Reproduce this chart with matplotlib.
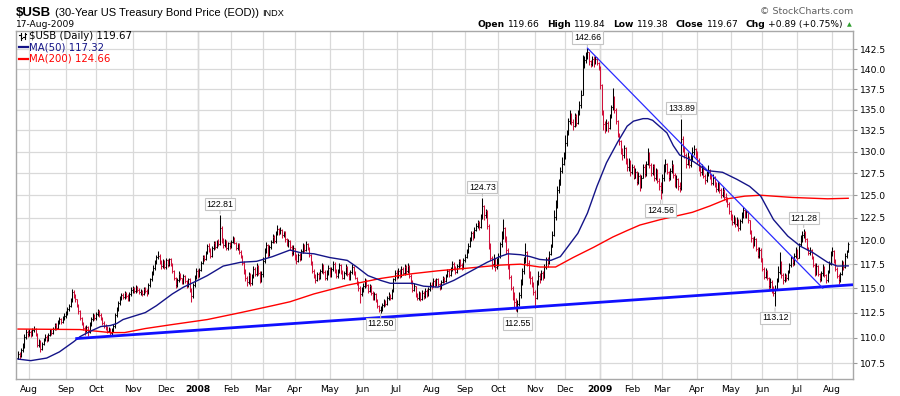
import matplotlib
matplotlib.use("Agg")
import matplotlib.pyplot as plt
import numpy as np
from matplotlib.collections import LineCollection
from matplotlib.lines import Line2D
from matplotlib.ticker import FixedLocator, NullLocator, FuncFormatter

W, H = 900, 396

# -----------------------------------------------------------------------------
#         Data (daily bars Jul-2007 .. 17-Aug-2009)
# -----------------------------------------------------------------------------
# trading days shown per month: Jul-07 (partial) ... Aug-09 (partial)
month_days = [7, 23, 19, 23, 21, 20, 21, 20, 20, 22, 21, 21, 22,
              21, 21, 23, 19, 22, 20, 19, 22, 21, 20, 22, 22, 11]
month_labels = ["Aug", "Sep", "Oct", "Nov", "Dec", "2008", "Feb", "Mar", "Apr",
                "May", "Jun", "Jul", "Aug", "Sep", "Oct", "Nov", "Dec", "2009",
                "Feb", "Mar", "Apr", "May", "Jun", "Jul", "Aug"]

first_open = 108.0

closes = [
    108.4, 108.2, 108.8, 109.2, 110.1, 110.6, 110.4,
    110.6, 110.3, 110.8, 110.9, 110.4, 109.3, 109.7, 108.9, 109.4, 109.8, 110.1, 109.8, 110.3, 110.7, 110.5, 110.9, 111.3, 111.0, 111.6, 111.9, 111.6, 112.0, 112.2,
    112.5, 112.9, 113.2, 113.8, 114.6, 114.3, 113.9, 113.3, 112.7, 112.0, 111.5, 111.0, 110.7, 111.1, 110.6, 111.4, 111.9, 112.2, 112.0,
    112.4, 112.7, 112.3, 112.0, 111.5, 111.2, 111.0, 110.7, 110.9, 110.5, 110.8, 111.2, 112.3, 112.9, 113.5, 114.0, 114.3, 114.1, 114.5, 114.2, 113.9, 114.4, 114.8,
    115.0, 114.7, 115.1, 114.8, 114.6, 114.6, 114.4, 114.9, 114.7, 114.5, 115.3, 115.9, 116.6, 117.1, 117.7, 118.3, 118.4, 117.8, 117.3, 117.8, 117.2,
    117.9, 117.4, 118.0, 117.5, 116.8, 116.0, 115.3, 115.8, 116.5, 116.0, 115.6, 116.3, 115.7, 115.2, 115.9, 114.8, 114.2, 115.3, 116.2, 116.8,
    116.3, 116.9, 117.6, 118.3, 118.0, 118.7, 119.4, 119.0, 118.4, 119.2, 119.8, 119.3, 119.9, 119.6, 121.4, 120.0, 119.5, 120.0, 119.2, 119.7, 119.4,
    119.9, 120.3, 119.8, 119.2, 119.6, 118.8, 118.3, 117.6, 116.8, 116.0, 115.6, 116.4, 115.5, 116.2, 117.0, 116.5, 117.3, 116.6, 115.8, 116.5,
    117.8, 118.9, 119.5, 118.6, 119.3, 119.9, 120.4, 120.0, 120.8, 121.3, 120.9, 121.2, 120.6, 120.9, 120.2, 119.6, 120.0, 119.3, 118.7, 119.2,
    118.3, 117.8, 118.5, 118.0, 118.9, 119.4, 119.0, 119.6, 119.2, 118.5, 117.6, 116.8, 116.2, 115.8, 116.5, 116.0, 116.8, 117.3, 116.7, 116.0, 116.6, 117.1,
    116.4, 117.0, 117.5, 116.9, 116.3, 116.8, 117.4, 116.7, 116.1, 116.6, 117.2, 116.5, 116.0, 116.7, 117.2, 116.6, 116.1, 115.5, 115.0, 114.4, 114.8,
    115.2, 115.8, 115.3, 114.7, 115.2, 114.5, 114.0, 114.4, 113.8, 113.2, 112.8, 112.9, 113.3, 113.7, 113.4, 114.0, 114.3, 114.0, 114.7, 115.9, 116.6,
    116.2, 116.8, 116.4, 117.0, 116.6, 117.2, 116.8, 117.3, 116.3, 115.6, 114.8, 115.2, 114.3, 114.0, 114.4, 113.9, 114.5, 114.2, 114.7, 114.3, 114.9, 115.3,
    115.2, 115.7, 115.3, 115.9, 115.4, 115.0, 115.6, 116.1, 115.7, 116.3, 116.8, 116.4, 117.0, 117.5, 117.1, 116.7, 117.3, 117.8, 117.4, 117.1, 117.9,
    118.3, 118.8, 119.4, 120.2, 120.8, 120.4, 121.2, 121.6, 122.0, 121.5, 122.6, 123.8, 122.8, 123.2, 121.6, 119.5, 118.2, 117.5, 118.0, 117.2, 117.6,
    118.4, 119.6, 120.5, 121.4, 120.3, 119.0, 117.4, 116.2, 115.0, 114.2, 113.6, 113.0, 113.4, 114.3, 115.6, 116.8, 117.9, 118.8, 117.6, 116.5, 116.0, 115.4, 114.6,
    114.0, 115.5, 116.3, 115.9, 116.6, 116.1, 117.2, 118.0, 117.6, 118.6, 119.3, 120.6, 122.6, 123.9, 125.6, 126.2, 127.8, 128.6, 129.3,
    131.0, 132.2, 133.6, 134.3, 133.5, 133.0, 134.2, 133.4, 134.5, 135.5, 136.8, 140.8, 141.2, 141.8, 142.2, 141.0, 140.6, 141.3, 140.8, 141.3, 140.7, 140.3,
    138.0, 134.8, 133.2, 132.6, 133.4, 132.8, 134.2, 135.3, 136.4, 135.0, 133.6, 132.0, 131.2, 130.0, 129.6, 130.4, 129.0, 128.2, 128.8, 127.6,
    128.2, 127.0, 127.6, 126.5, 127.2, 125.9, 127.0, 128.2, 127.4, 128.6, 129.7, 128.4, 127.5, 128.3, 126.9, 127.8, 126.6, 126.0, 125.6,
    127.0, 127.9, 128.6, 127.6, 126.9, 127.8, 128.4, 127.3, 126.2, 126.8, 126.0, 125.8, 131.5, 130.4, 129.6, 128.6, 129.3, 128.4, 129.2, 129.9, 130.3, 129.6,
    129.0, 128.2, 127.6, 128.1, 127.2, 126.7, 127.5, 127.9, 127.1, 126.4, 127.0, 126.2, 125.7, 126.3, 125.6, 125.0, 125.5, 124.8, 124.5, 124.0, 123.2,
    122.6, 122.0, 122.5, 121.8, 122.3, 121.4, 122.1, 122.8, 123.3, 122.7, 123.1, 122.2, 121.0, 120.3, 119.6, 120.2, 119.1, 118.4, 119.0, 118.1,
    117.0, 116.2, 116.8, 116.0, 115.2, 115.6, 114.8, 114.5, 114.9, 115.8, 116.7, 117.6, 116.4, 115.8, 116.3, 116.0, 116.7, 117.4, 118.1, 117.6, 118.4, 118.9,
    118.2, 119.6, 120.4, 120.6, 120.9, 120.2, 119.2, 118.7, 119.0, 118.2, 117.4, 116.6, 117.3, 116.5, 115.9, 116.6, 117.2, 116.4, 115.8, 116.7, 117.5, 118.6,
    118.9, 117.8, 117.0, 116.3, 115.8, 116.5, 117.6, 117.2, 118.4, 118.78, 119.67,
]

highs = [
    108.7, 108.6, 109.0, 109.5, 110.4, 110.9, 110.8,
    110.9, 110.8, 111.0, 111.2, 111.0, 110.5, 109.9, 109.8, 109.6, 110.0, 110.4, 110.3, 110.5, 110.9, 110.9, 111.1, 111.5, 111.5, 111.8, 112.1, 112.0, 112.2, 112.5,
    112.7, 113.1, 113.4, 114.0, 114.9, 114.8, 114.4, 113.9, 113.4, 112.8, 112.1, 111.6, 111.2, 111.3, 111.2, 111.6, 112.1, 112.5, 112.4,
    112.6, 112.9, 112.8, 112.5, 112.1, 111.7, 111.4, 111.2, 111.1, 111.0, 111.0, 111.4, 112.5, 113.1, 113.7, 114.2, 114.5, 114.5, 114.7, 114.6, 114.4, 114.6, 115.1,
    115.2, 115.1, 115.3, 115.2, 115.0, 114.9, 114.8, 115.1, 115.1, 114.9, 115.5, 116.1, 116.8, 117.4, 117.9, 118.5, 118.9, 118.6, 117.9, 118.0, 117.9,
    118.1, 118.0, 118.2, 118.1, 117.6, 116.9, 116.2, 116.0, 116.8, 116.6, 116.1, 116.5, 116.4, 115.8, 116.1, 116.0, 115.0, 115.5, 116.4, 117.1,
    117.0, 117.1, 117.8, 118.5, 118.5, 118.9, 119.6, 119.7, 119.2, 119.4, 120.0, 120.0, 120.1, 120.2, 122.81, 121.6, 120.3, 120.2, 120.1, 119.9, 119.9,
    120.1, 120.5, 120.4, 119.9, 119.8, 119.7, 119.0, 118.5, 117.8, 117.0, 116.3, 116.7, 116.6, 116.5, 117.3, 117.2, 117.6, 117.4, 116.8, 116.8,
    118.3, 119.2, 119.9, 119.6, 119.5, 120.1, 120.7, 120.6, 121.0, 121.7, 121.4, 121.5, 121.3, 121.1, 121.0, 120.3, 120.2, 120.1, 119.5, 119.5,
    118.9, 118.6, 118.7, 118.7, 119.1, 119.7, 119.6, 120.0, 119.8, 119.3, 118.6, 117.8, 117.0, 116.5, 116.7, 116.7, 117.0, 117.6, 117.5, 116.9, 116.9, 117.4,
    117.2, 117.2, 117.8, 117.7, 117.0, 117.0, 117.6, 117.5, 116.9, 116.8, 117.5, 117.3, 116.7, 116.9, 117.5, 117.3, 116.8, 116.2, 115.7, 115.2, 115.1,
    115.5, 116.1, 115.9, 115.4, 115.4, 115.3, 114.7, 114.6, 114.5, 113.9, 113.3, 113.2, 113.5, 113.9, 113.8, 114.2, 114.6, 114.4, 114.9, 116.1, 116.9,
    116.9, 117.1, 117.0, 117.3, 117.2, 117.5, 117.4, 117.6, 117.4, 116.5, 115.8, 115.5, 115.2, 114.5, 114.7, 114.6, 114.8, 114.7, 115.0, 114.9, 115.1, 115.6,
    115.6, 116.0, 115.9, 116.1, 116.0, 115.5, 115.8, 116.3, 116.2, 116.5, 117.0, 117.0, 117.2, 117.8, 117.7, 117.3, 117.5, 118.0, 118.0, 117.6, 118.1,
    118.6, 119.1, 119.7, 120.4, 121.1, 121.0, 121.5, 121.9, 122.3, 122.1, 122.9, 124.73, 123.9, 123.5, 123.3, 121.8, 119.8, 118.4, 118.6, 118.2, 118.1,
    118.7, 119.9, 121.0, 122.4, 121.5, 120.5, 119.2, 117.5, 116.4, 115.2, 114.6, 114.0, 113.8, 114.6, 115.9, 117.1, 118.3, 119.7, 118.9, 117.9, 116.8, 116.3, 115.6,
    114.8, 115.8, 116.8, 116.6, 116.9, 116.8, 117.5, 118.3, 118.3, 118.9, 119.6, 121.1, 123.4, 124.5, 126.0, 126.8, 128.2, 129.4, 129.9,
    131.9, 132.6, 134.0, 134.9, 134.6, 133.8, 134.6, 134.4, 134.9, 136.0, 137.4, 141.8, 141.6, 142.1, 142.66, 142.0, 141.2, 141.6, 141.6, 141.7, 141.5, 140.9,
    140.4, 138.1, 134.9, 133.6, 133.9, 133.6, 134.5, 135.6, 137.6, 136.6, 135.2, 133.7, 132.2, 131.4, 130.4, 130.8, 130.5, 129.2, 129.3, 129.0,
    128.5, 128.4, 128.1, 127.8, 127.6, 127.4, 127.3, 128.5, 128.6, 128.9, 130.4, 130.0, 128.7, 128.6, 128.5, 128.1, 128.0, 126.9, 126.5,
    127.4, 128.6, 129.1, 128.7, 127.8, 128.1, 129.0, 128.5, 127.5, 127.3, 127.0, 126.5, 133.89, 131.8, 130.7, 129.8, 129.9, 129.5, 129.7, 130.5, 130.8, 130.4,
    130.1, 129.3, 128.4, 128.5, 128.3, 127.4, 127.8, 128.4, 128.0, 127.4, 127.4, 127.2, 126.5, 126.6, 126.5, 125.8, 125.9, 125.7, 125.2, 124.8, 124.2,
    123.4, 122.9, 122.8, 122.6, 122.6, 122.4, 122.4, 123.1, 123.7, 123.5, 123.4, 123.2, 122.3, 121.2, 120.4, 120.5, 120.3, 119.3, 119.3, 119.2,
    118.2, 117.2, 117.1, 116.9, 116.2, 116.0, 115.8, 115.2, 115.3, 116.1, 117.3, 118.8, 117.8, 116.6, 116.6, 116.5, 116.9, 117.6, 118.4, 118.3, 118.7, 119.3,
    119.1, 119.8, 120.6, 121.0, 121.28, 121.1, 120.3, 119.3, 119.3, 119.1, 118.4, 117.6, 117.6, 117.4, 116.6, 116.8, 117.5, 117.3, 116.5, 116.9, 117.8, 118.9,
    119.3, 119.0, 118.0, 117.2, 116.5, 116.7, 117.9, 117.8, 118.7, 119.0, 119.84,
]

lows = [
    107.9, 107.9, 108.1, 108.6, 109.0, 109.9, 110.1,
    110.2, 110.1, 110.2, 110.6, 110.2, 109.1, 109.1, 108.6, 108.8, 109.3, 109.7, 109.6, 109.7, 110.2, 110.3, 110.4, 110.8, 110.8, 110.9, 111.4, 111.4, 111.5, 111.8,
    112.0, 112.3, 112.7, 113.1, 113.6, 114.0, 113.6, 113.1, 112.4, 111.8, 111.3, 110.8, 110.3, 110.6, 110.2, 110.5, 111.2, 111.7, 111.8,
    111.8, 112.2, 112.1, 111.8, 111.3, 111.0, 110.8, 110.5, 110.6, 110.2, 110.3, 110.6, 111.0, 112.1, 112.7, 113.3, 113.8, 113.9, 113.9, 114.0, 113.7, 113.7, 114.2,
    114.5, 114.5, 114.5, 114.6, 114.4, 114.3, 114.2, 114.3, 114.5, 114.2, 114.4, 115.1, 115.7, 116.4, 116.9, 117.5, 118.0, 117.5, 117.0, 117.1, 117.0,
    117.0, 117.2, 117.3, 117.3, 116.6, 115.8, 115.0, 115.1, 115.6, 115.8, 115.4, 115.4, 115.5, 115.0, 115.1, 114.6, 113.6, 114.0, 115.1, 115.9,
    116.0, 116.2, 116.8, 117.5, 117.8, 117.9, 118.6, 118.8, 118.2, 118.3, 119.0, 119.1, 119.2, 119.4, 119.5, 119.8, 119.2, 119.3, 119.0, 119.0, 119.1,
    119.2, 119.7, 119.6, 119.0, 119.0, 118.6, 118.1, 117.4, 116.5, 115.7, 115.2, 115.4, 115.2, 115.3, 116.0, 116.3, 116.3, 116.4, 115.5, 115.6,
    116.2, 117.6, 118.7, 118.3, 118.4, 119.1, 119.7, 119.7, 119.8, 120.6, 120.6, 120.7, 120.3, 120.4, 119.9, 119.4, 119.3, 119.0, 118.4, 118.5,
    117.9, 117.5, 117.7, 117.8, 117.9, 118.7, 118.8, 118.9, 119.0, 118.3, 117.4, 116.6, 116.0, 115.5, 115.7, 115.8, 115.9, 116.6, 116.5, 115.8, 115.8, 116.4,
    116.2, 116.2, 116.8, 116.6, 116.1, 116.1, 116.6, 116.5, 115.9, 115.9, 116.4, 116.3, 115.8, 115.8, 116.5, 116.4, 115.9, 115.3, 114.7, 113.5, 114.2,
    114.6, 115.0, 115.1, 114.5, 114.6, 114.3, 113.8, 113.8, 113.6, 113.0, 112.6, 112.50, 112.7, 113.1, 113.2, 113.3, 113.8, 113.8, 113.9, 114.6, 115.7,
    115.9, 116.0, 116.1, 116.2, 116.4, 116.4, 116.5, 116.6, 116.1, 115.4, 114.6, 114.7, 114.1, 113.8, 113.8, 113.7, 113.8, 113.9, 114.0, 114.1, 114.2, 114.7,
    114.9, 115.1, 115.1, 115.2, 115.2, 114.8, 114.9, 115.5, 115.5, 115.6, 116.2, 116.2, 116.3, 116.8, 116.9, 116.5, 116.6, 117.1, 117.2, 116.9, 117.0,
    117.7, 118.1, 118.7, 119.3, 120.0, 120.1, 120.3, 121.0, 121.4, 121.2, 121.4, 122.4, 122.3, 122.5, 121.3, 119.1, 117.9, 117.0, 117.2, 116.8, 117.0,
    117.3, 118.2, 119.3, 120.2, 119.9, 118.6, 117.0, 115.9, 114.8, 113.8, 113.1, 112.7, 112.55, 113.2, 114.0, 115.3, 116.5, 117.6, 117.3, 116.1, 115.4, 115.1, 114.3,
    113.0, 113.9, 115.3, 115.5, 115.8, 115.8, 116.0, 117.0, 117.2, 117.5, 118.5, 119.3, 120.5, 122.3, 123.6, 125.3, 126.1, 127.5, 128.4,
    129.1, 130.6, 131.9, 133.3, 133.1, 132.5, 132.9, 133.0, 133.2, 134.3, 135.2, 137.0, 140.1, 140.8, 141.3, 140.5, 140.2, 140.4, 140.3, 140.6, 140.5, 139.9,
    137.5, 134.3, 132.6, 132.2, 132.4, 132.3, 132.7, 134.0, 135.0, 134.6, 133.2, 131.7, 130.8, 129.7, 129.0, 129.3, 128.6, 127.8, 127.7, 127.2,
    127.4, 126.8, 126.9, 126.2, 126.3, 125.5, 125.8, 126.9, 127.1, 127.2, 128.4, 128.1, 127.2, 127.3, 126.6, 126.7, 126.4, 125.6, 124.56,
    125.3, 126.6, 127.6, 127.4, 126.6, 126.7, 127.5, 127.0, 125.9, 125.8, 125.6, 125.4, 125.6, 129.9, 129.2, 128.1, 128.4, 128.1, 128.2, 128.9, 129.6, 129.2,
    128.6, 127.8, 127.2, 127.3, 126.9, 126.3, 126.5, 127.2, 126.8, 126.1, 126.2, 125.9, 125.4, 125.5, 125.3, 124.7, 124.8, 124.5, 124.2, 123.7, 122.9,
    122.2, 121.7, 121.8, 121.5, 121.6, 121.1, 121.2, 121.9, 122.5, 122.5, 122.5, 121.9, 120.7, 119.9, 119.2, 119.4, 118.9, 118.1, 118.2, 117.7,
    116.8, 115.9, 116.0, 115.8, 114.9, 115.0, 114.5, 114.2, 113.12, 114.8, 115.6, 116.5, 116.1, 115.4, 115.6, 115.7, 115.8, 116.6, 117.2, 117.3, 117.4, 118.1,
    117.9, 118.1, 119.4, 119.9, 120.3, 119.9, 119.0, 118.5, 118.5, 118.0, 117.2, 116.3, 116.4, 116.3, 115.6, 115.7, 116.3, 116.2, 115.5, 115.6, 116.6, 117.4,
    118.4, 117.6, 116.8, 116.0, 115.4, 115.6, 116.4, 116.9, 117.1, 118.1, 119.38,
]

# moving averages, read at these bar numbers
ma50_bar = [0, 8, 18, 26, 35, 39, 45, 52, 58, 62, 66, 72, 80, 87, 97, 104, 113, 119, 129, 140,
            150, 160, 171, 178, 186, 196, 207, 213, 220, 228, 234, 248, 255, 264, 274, 284, 295, 303, 308, 316,
            322, 328, 335, 341, 345, 352, 358, 364, 370, 377, 383, 387, 393, 396, 399, 408, 412, 416, 421, 425,
            433, 443, 452, 460, 467, 475, 484, 492, 500, 509, 515, 522]
ma50 = [107.9, 107.75, 108.0, 108.6, 109.6, 110.1, 110.6, 111.1, 111.2, 111.4, 111.8, 112.1, 112.5, 113.2, 114.4, 115.1, 115.8, 116.3, 117.3, 117.7,
        117.8, 118.3, 119.0, 118.7, 118.6, 118.2, 117.9, 117.2, 116.3, 115.8, 115.5, 115.5, 115.2, 115.1, 115.8, 116.7, 117.7, 118.3, 118.6, 118.5,
        118.3, 118.0, 117.9, 118.3, 119.2, 120.8, 123.0, 126.0, 128.7, 131.1, 133.0, 133.6, 133.9, 133.9, 133.7, 132.2, 130.7, 129.6, 129.2, 128.8,
        127.8, 127.6, 126.8, 126.0, 124.9, 122.3, 120.5, 119.4, 118.7, 117.7, 117.3, 117.32]
ma200_bar = [0, 39, 58, 67, 80, 97, 119, 140, 160, 171, 186, 207, 228, 248, 264, 284, 303, 316, 328, 338,
             349, 362, 374, 383, 391, 404, 424, 435, 446, 457, 467, 487, 509, 522]
ma200 = [110.85, 110.8, 110.5, 110.5, 110.9, 111.3, 111.8, 112.5, 113.2, 113.6, 114.4, 115.3, 116.0, 116.5, 116.8, 117.1, 117.4, 117.5, 117.2, 117.2,
         118.2, 119.3, 120.4, 121.1, 121.7, 122.3, 123.1, 123.8, 124.6, 124.9, 125.0, 124.75, 124.6, 124.66]

# hand-drawn trend lines
support_bar = [36, 525]
support = [109.9, 115.35]
resist_end_bar = 506
resist_end = 115.0

peaks = [122.81, 124.73, 142.66, 133.89, 121.28]
troughs = [112.50, 112.55, 124.56, 113.12]

assert len(closes) == len(highs) == len(lows) == sum(month_days)

# -----------------------------------------------------------------------------
#         Plot
# -----------------------------------------------------------------------------
UP, DOWN = "#000000", "#d0103a"
NAVY, RED = "#141488", "#ff0000"
GRID = "#d9d9d9"

fig = plt.figure(figsize=(W / 100, H / 100), dpi=100)
fig.patch.set_facecolor("white")
ax = fig.add_axes([16 / W, 1 - 379.3 / H, (853.3 - 16) / W, (379.3 - 30.7) / H])

ax.set_yscale("log")
ax.set_ylim(105.96, 144.9)
ax.set_xlim(-1.3, 525.2)

yt = np.arange(107.5, 143, 2.5)
ax.yaxis.set_major_locator(FixedLocator(yt))
ax.yaxis.set_major_formatter(FuncFormatter(lambda v, p: f"{v:.1f}"))
ax.yaxis.set_minor_locator(NullLocator())
ax.yaxis.tick_right()

starts = np.cumsum(month_days)[:-1]
ax.set_xticks(starts)
ax.set_xticklabels(month_labels)
for lab in ax.get_xticklabels():
    if lab.get_text().isdigit():
        lab.set_fontweight("bold")

ax.tick_params(axis="x", length=0, pad=4, labelsize=6.6, colors="#000000")
ax.tick_params(axis="y", length=3, width=0.8, color="#999999", pad=2, labelsize=6.6)
ax.grid(True, color=GRID, lw=0.9)
ax.set_axisbelow(True)
for s, lab in zip(starts, month_labels):
    if lab.isdigit():
        ax.axvline(s, color="#b4b4b4", lw=0.9, zorder=0.5)
for sp in ax.spines.values():
    sp.set_color("#a8a8a8")
    sp.set_linewidth(1.0)

# OHLC bars (open taken as the previous close)
opens = [first_open] + closes[:-1]
segs, cols = [], []
for i, (o, h, l, c) in enumerate(zip(opens, highs, lows, closes)):
    h = max(h, o, c)
    l = min(l, o, c)
    col = UP if c >= o else DOWN
    segs += [[(i, l), (i, h)], [(i - 0.5, o), (i, o)], [(i, c), (i + 0.5, c)]]
    cols += [col] * 3
ax.add_collection(LineCollection(segs, colors=cols, linewidths=0.75, zorder=3))

# moving averages
ax.plot(ma200_bar, ma200, color=RED, lw=1.0, zorder=4)
ax.plot(ma50_bar, ma50, color=NAVY, lw=1.0, zorder=4)

# trend lines
ax.plot(support_bar, support, color="#1010ff", lw=2.0, zorder=5, solid_capstyle="butt")
top = highs.index(max(highs))
ax.plot([top, resist_end_bar], [highs[top], resist_end], color="#2a2aff", lw=0.9, zorder=5)


def last_index(seq, v):
    return len(seq) - 1 - seq[::-1].index(v)


# value callouts
box = dict(boxstyle="square,pad=0.18", fc="white", ec="#c4c4c4", lw=0.8)
arrow = dict(arrowstyle="-", color="#c4c4c4", lw=0.8, shrinkA=0, shrinkB=1)
for v in peaks:
    i = last_index(highs, v)
    ax.annotate(f"{v:.2f}", (i, v), xytext=(0, 7.6), textcoords="offset points",
                ha="center", va="center", fontsize=6.3, family="Liberation Sans",
                bbox=box, arrowprops=arrow, zorder=6)
for v in troughs:
    i = last_index(lows, v)
    ax.annotate(f"{v:.2f}", (i, v), xytext=(0, -8.2), textcoords="offset points",
                ha="center", va="center", fontsize=6.3, family="Liberation Sans",
                bbox=box, arrowprops=arrow, zorder=6)


# -----------------------------------------------------------------------------
#         Header and legend text (pixel placement)
# -----------------------------------------------------------------------------
def fx(x):
    return x / W


def fy(y):
    return 1 - y / H


renderer = fig.canvas.get_renderer()


def run(x, y, pieces, gap=4):
    """Place text pieces one after another from pixel x."""
    for s, kw in pieces:
        t = fig.text(fx(x), fy(y), s, va="baseline", **kw)
        x += t.get_window_extent(renderer=renderer).width + gap
    return x


run(16, 15.5, [("$USB", dict(fontsize=9.5, fontweight="bold", family="Liberation Sans")),
               ("(30-Year US Treasury Bond Price (EOD))", dict(fontsize=8.0, family="Liberation Sans")),
               ("INDX", dict(fontsize=6.6, family="Liberation Sans"))], gap=3.5)
fig.text(fx(16), fy(27), "17-Aug-2009", fontsize=6.6, va="baseline")
fig.text(fx(853), fy(14), "\u00a9 StockCharts.com", fontsize=6.8, color="#606060",
         ha="right", va="baseline")

parts = [("Open", "bold"), ("119.66", "normal"), ("High", "bold"), ("119.84", "normal"),
         ("Low", "bold"), ("119.38", "normal"), ("Close", "bold"), ("119.67", "normal"),
         ("Chg", "bold"), ("+0.89 (+0.75%)", "normal")]
texts, widths = [], []
for s, wt in parts:
    t = fig.text(0, fy(27), s, fontsize=6.6, fontweight=wt, va="baseline")
    texts.append(t)
    widths.append(t.get_window_extent(renderer=renderer).width)
gaps = [3.5 if wt == "bold" else 7 for _, wt in parts]
total = sum(widths) + sum(gaps[:-1])
x = 843 - total
for t, w, g in zip(texts, widths, gaps):
    t.set_x(fx(x))
    x += w + g
fig.text(fx(849), fy(26.5), "\u25b2", fontsize=4.5, color="#2e9e2e", ha="center", va="baseline")

# legend inside the price panel
for dx, y0, y1, yo, yc in [(20.5, 33, 39.5, 35, 37.5), (24.5, 32.5, 39, 36.5, 34)]:
    fig.add_artist(Line2D([fx(dx), fx(dx)], [fy(y1), fy(y0)], color="k", lw=0.8))
    fig.add_artist(Line2D([fx(dx - 1.5), fx(dx)], [fy(yo), fy(yo)], color="k", lw=0.8))
    fig.add_artist(Line2D([fx(dx), fx(dx + 1.5)], [fy(yc), fy(yc)], color="k", lw=0.8))
fig.text(fx(28.5), fy(36), "$USB (Daily) 119.67", fontsize=7.3, va="center")
fig.add_artist(Line2D([fx(19), fx(28)], [fy(47), fy(47)], color=NAVY, lw=1.6))
fig.text(fx(29), fy(47), "MA(50) 117.32", fontsize=7.3, color=NAVY, va="center")
fig.add_artist(Line2D([fx(19), fx(28)], [fy(58.5), fy(58.5)], color=RED, lw=1.6))
fig.text(fx(29), fy(58.5), "MA(200) 124.66", fontsize=7.3, color=RED, va="center")

fig.savefig("out.png", dpi=100, facecolor="white")
